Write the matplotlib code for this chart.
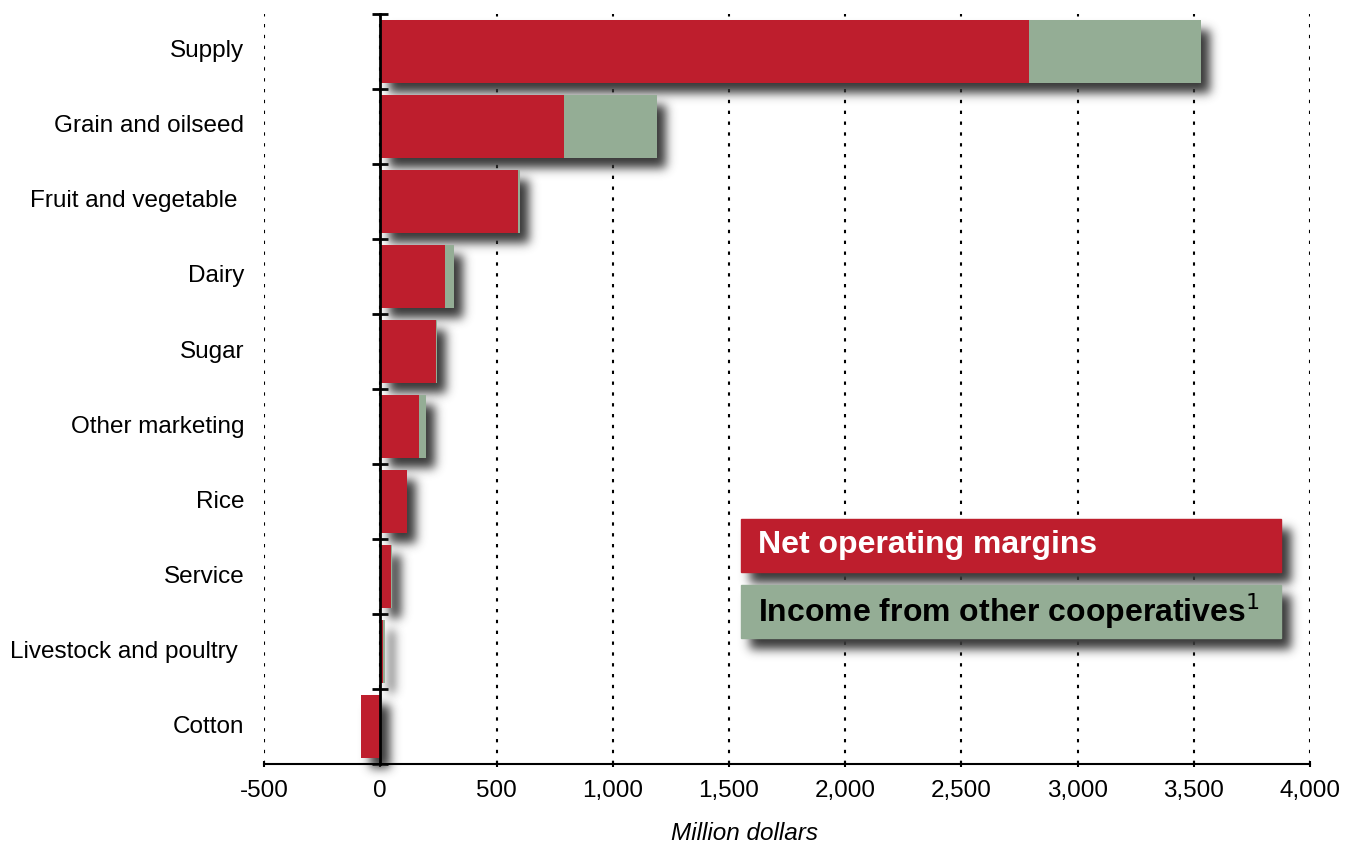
import numpy as np
import matplotlib
matplotlib.use("Agg")
import matplotlib.pyplot as plt
from matplotlib.patches import Rectangle
from matplotlib.ticker import FuncFormatter
import matplotlib.transforms as mtransforms

plt.rcParams["font.family"] = ["Liberation Sans", "DejaVu Sans"]

# Net margins by cooperative type, million dollars
categories = ["Supply", "Grain and oilseed", "Fruit and vegetable ", "Dairy", "Sugar",
              "Other marketing", "Rice", "Service", "Livestock and poultry ", "Cotton"]
net_margins = [2790, 791, 593, 279, 240, 168, 115, 47, 13, -85]
other_coops = [740, 400, 9, 39, 2, 30, 2, 2, 9, 4]

x_ticks = [-500, 0, 500, 1000, 1500, 2000, 2500, 3000, 3500, 4000]

RED = "#BE1E2D"
GREEN = "#94AD95"


def soft_shadow(sigma=5.0, ox=9, oy=-10, alpha=1.0):
    # agg filter: blur the artist's alpha and paint it grey, shifted down-right
    def _filter(im, dpi):
        pad = int(3 * sigma)
        a = np.pad(im[:, :, 3], pad)
        k = np.exp(-0.5 * (np.arange(-pad, pad + 1) / sigma) ** 2)
        k /= k.sum()
        a = np.apply_along_axis(np.convolve, 0, a, k, mode="same")
        a = np.apply_along_axis(np.convolve, 1, a, k, mode="same")
        out = np.zeros(a.shape + (4,), dtype=float)
        out[..., :3] = 0.22
        out[..., 3] = np.clip(a * alpha, 0, 1)
        return out, ox - pad, oy - pad
    return _filter


fig = plt.figure(figsize=(13.59, 8.43), dpi=100)
ax = fig.add_axes([0.1943, 0.0937, 0.7697, 0.8897])

y = np.arange(len(categories))
net = np.array(net_margins)
other = np.array(other_coops)
start = np.minimum(net, 0)
stop = np.maximum(net, 0) + other

# shadows under each full bar
shadows = ax.barh(y, stop - start, left=start, height=0.84, color="k", zorder=1)
for p in shadows:
    p.set_agg_filter(soft_shadow())
    p.set_clip_on(False)
    p.set_rasterized(True)

ax.barh(y, net, height=0.84, color=RED, zorder=2)
ax.barh(y, other, left=np.maximum(net, 0), height=0.84, color=GREEN, zorder=2)

ax.set_xlim(-500, 4000)
ax.set_ylim(len(categories) - 0.5, -0.5)

ax.set_xticks(x_ticks)
ax.xaxis.set_major_formatter(FuncFormatter(lambda v, _: f"{int(v):,}"))
ax.tick_params(axis="x", direction="inout", length=5, width=1.5, labelsize=17.5, pad=9)
ax.grid(axis="x", color="k", linewidth=1.5, linestyle=(0, (1.6, 3.6)), zorder=0.5)
ax.set_axisbelow(True)

# zero line carries the category separators
ax.spines["left"].set_position(("data", 0))
ax.spines["left"].set_linewidth(2)
ax.spines["left"].set_zorder(3)
ax.spines["bottom"].set_linewidth(1.5)
ax.spines["top"].set_visible(False)
ax.spines["right"].set_visible(False)
ax.set_yticks(np.arange(len(categories) + 1) - 0.5)
ax.set_yticklabels([])
ax.tick_params(axis="y", direction="inout", length=12, width=2)

lbl = mtransforms.blended_transform_factory(ax.transAxes, ax.transData)
for yi, name in zip(y, categories):
    ax.text(-0.019, yi, name, transform=lbl, ha="right", va="center", fontsize=17.5)

ax.set_xlabel("Million dollars", fontsize=17.5, fontstyle="italic")
ax.xaxis.set_label_coords(0.459, -0.077)

# legend as shaded boxes
boxes = [
    (0.256, RED, "Net operating margins", "white"),
    (0.168, GREEN, "Income from other cooperatives$^{1}$", "black"),
]
for yb, col, txt, tc in boxes:
    sh = Rectangle((0.456, yb), 0.516, 0.071, transform=ax.transAxes, color="k", zorder=4)
    sh.set_agg_filter(soft_shadow())
    sh.set_rasterized(True)
    ax.add_patch(sh)
    ax.add_patch(Rectangle((0.456, yb), 0.516, 0.071, transform=ax.transAxes,
                           color=col, zorder=5))
    ax.text(0.472, yb + 0.0355, txt, transform=ax.transAxes, ha="left", va="center",
            fontsize=23, fontweight="bold", color=tc, zorder=6)

fig.savefig("out.png", dpi=100)
